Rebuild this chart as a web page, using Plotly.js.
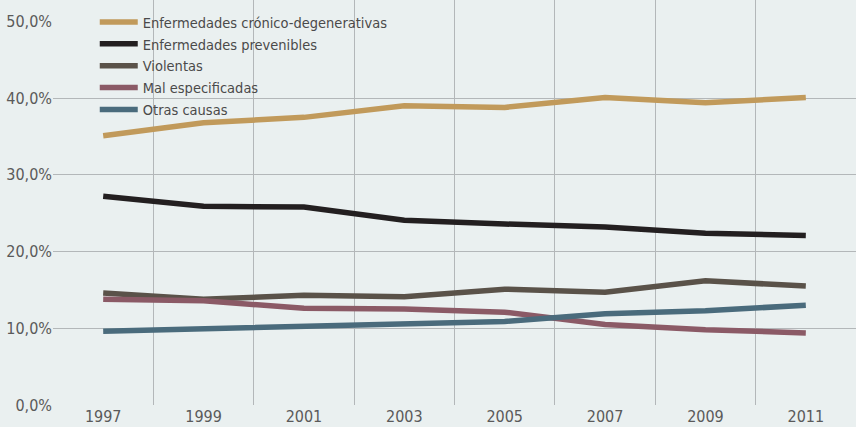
<!DOCTYPE html>
<html>
<head>
<meta charset="utf-8">
<script src="https://cdn.plot.ly/plotly-3.0.1.min.js"></script>
<style>html,body{margin:0;padding:0;background:#eaf0f0;}#chart{width:856px;height:427px;}</style>
</head>
<body>
<div id="chart"></div>
<script>
const years = [1997, 1999, 2001, 2003, 2005, 2007, 2009, 2011];
const seriesNames = ["Enfermedades crónico-degenerativas", "Enfermedades prevenibles", "Violentas", "Mal especificadas", "Otras causas"];
const cronicoDegenerativas = [35.1, 36.8, 37.5, 39.0, 38.8, 40.1, 39.4, 40.1];
const prevenibles = [27.2, 25.9, 25.8, 24.1, 23.6, 23.2, 22.4, 22.1];
const violentas = [14.6, 13.8, 14.3, 14.1, 15.1, 14.7, 16.2, 15.5];
const malEspecificadas = [13.8, 13.6, 12.6, 12.5, 12.1, 10.5, 9.8, 9.4];
const otrasCausas = [9.6, 9.9, 10.3, 10.6, 10.9, 11.9, 12.3, 13.0];
const yTickVals = [0, 10, 20, 30, 40, 50];
const yTickText = ["0,0%", "10,0%", "20,0%", "30,0%", "40,0%", "50,0%"];
const yGridVals = [10, 20, 30, 40];
const xGridVals = [1998, 2000, 2002, 2004, 2006, 2008, 2010];

const colors = ["#c19a5b", "#231f20", "#5a5249", "#8b5a66", "#4a6b7c"];
const values = [cronicoDegenerativas, prevenibles, violentas, malEspecificadas, otrasCausas];

const font = "'DejaVu Sans Condensed', 'Liberation Sans Narrow', sans-serif";

const traces = values.map((v, i) => ({
  x: years, y: v, name: seriesNames[i], type: "scatter", mode: "lines",
  line: {color: colors[i], width: 5.5},
  hoverinfo: "skip"
}));
// empty helper trace so the grid-only overlay axes get drawn
traces.push({x: [], y: [], xaxis: "x2", yaxis: "y2", type: "scatter", mode: "lines", showlegend: false, hoverinfo: "skip"});

const layout = {
  width: 856, height: 427,
  margin: {l: 53, r: 0, t: 0, b: 22, pad: 0},
  paper_bgcolor: "#eaf0f0", plot_bgcolor: "#eaf0f0",
  font: {family: font, color: "#5a5a5a", size: 16},
  showlegend: true,
  legend: {
    x: 0.052, y: 0.985, xanchor: "left", yanchor: "top",
    bgcolor: "rgba(0,0,0,0)", font: {family: font, size: 14.5, color: "#4a4a4a"},
    tracegroupgap: 0, itemwidth: 38
  },
  xaxis: {
    range: [1996, 2012], tickvals: years, ticktext: years.map(String),
    showgrid: false, zeroline: false, showline: false, ticks: "",
    tickfont: {size: 16, color: "#5a5a5a"}, fixedrange: true
  },
  xaxis2: {
    range: [1996, 2012], overlaying: "x", anchor: "y", side: "bottom",
    tickvals: xGridVals, showticklabels: false, showgrid: true,
    gridcolor: "#b3b7b9", gridwidth: 1, zeroline: false, showline: false, ticks: ""
  },
  yaxis: {
    range: [0, 52.8], tickvals: yTickVals, ticktext: yTickText,
    showgrid: false, zeroline: false, showline: false, ticks: "",
    tickfont: {size: 16, color: "#5a5a5a"}, fixedrange: true
  },
  yaxis2: {
    range: [0, 52.8], overlaying: "y", anchor: "x", side: "left",
    tickvals: yGridVals, showticklabels: false, showgrid: true,
    gridcolor: "#b3b7b9", gridwidth: 1, zeroline: false, showline: false, ticks: ""
  }
};

Plotly.newPlot("chart", traces, layout, {staticPlot: true, displayModeBar: false});
</script>
</body>
</html>
